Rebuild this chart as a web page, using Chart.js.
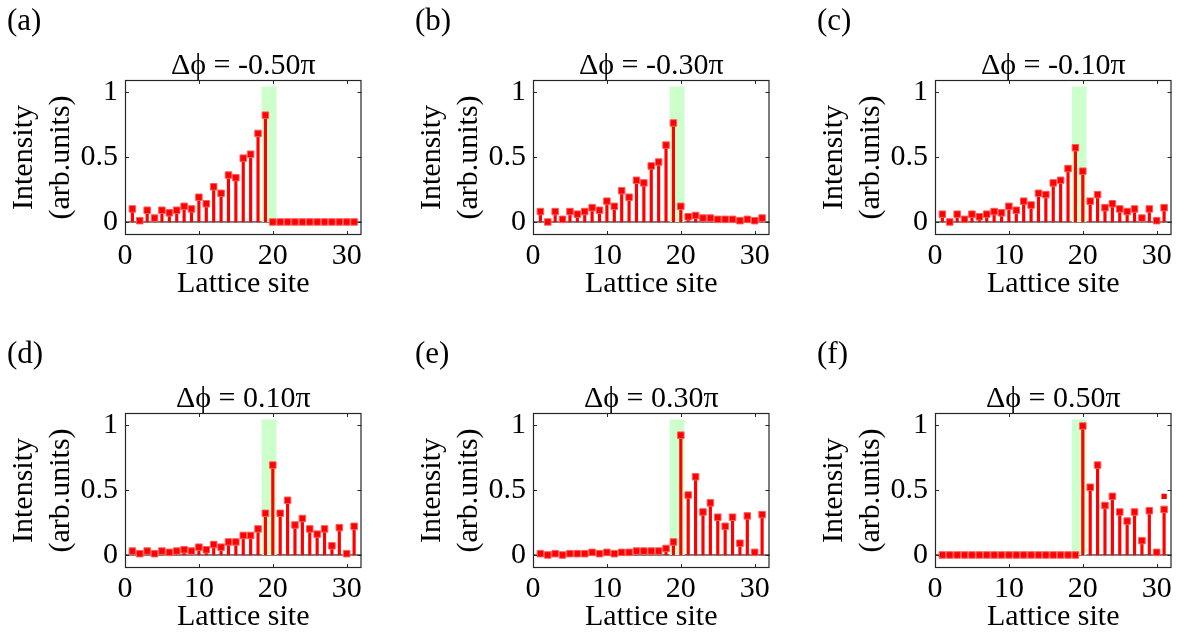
<!DOCTYPE html>
<html>
<head>
<meta charset="utf-8">
<title>Lattice site intensity</title>
<script src="https://cdn.jsdelivr.net/npm/chart.js@4/dist/chart.umd.min.js"></script>
<style>
    body { margin: 0; background: #fff; overflow: hidden; }
    #wrap { position: relative; width: 1189px; height: 632px; }
    #wrap canvas { position: absolute; }
</style>
</head>
<body>
<div id="wrap"></div>
<script>
// lattice sites 1..31
const sites = [1, 2, 3, 4, 5, 6, 7, 8, 9, 10, 11, 12, 13, 14, 15, 16,
    17, 18, 19, 20, 21, 22, 23, 24, 25, 26, 27, 28, 29, 30, 31];

const phases = ['-0.50', '-0.30', '-0.10', '0.10', '0.30', '0.50'];
const panelTags = ['(a)', '(b)', '(c)', '(d)', '(e)', '(f)'];

const intensityA = [0.10, 0.01, 0.09, 0.03, 0.09, 0.07, 0.09, 0.12, 0.10, 0.19, 0.14, 0.27, 0.22, 0.36, 0.34, 0.49,
    0.52, 0.68, 0.82, 0, 0, 0, 0, 0, 0, 0, 0, 0, 0, 0, 0];
const intensityB = [0.08, 0.00, 0.08, 0.02, 0.08, 0.06, 0.08, 0.11, 0.09, 0.16, 0.12, 0.24, 0.19, 0.32, 0.30, 0.43,
    0.46, 0.59, 0.76, 0.12, 0.04, 0.05, 0.03, 0.03, 0.02, 0.02, 0.02, 0.01, 0.02, 0.01, 0.03];
const intensityC = [0.06, 0.00, 0.06, 0.02, 0.06, 0.04, 0.06, 0.08, 0.07, 0.12, 0.09, 0.16, 0.13, 0.22, 0.21, 0.30,
    0.32, 0.41, 0.57, 0.39, 0.16, 0.21, 0.11, 0.14, 0.10, 0.08, 0.10, 0.03, 0.10, 0.01, 0.11];
const intensityD = [0.03, 0.01, 0.03, 0.01, 0.03, 0.02, 0.03, 0.04, 0.03, 0.06, 0.04, 0.08, 0.06, 0.10, 0.10, 0.15,
    0.15, 0.20, 0.32, 0.69, 0.32, 0.42, 0.23, 0.28, 0.20, 0.16, 0.20, 0.07, 0.21, 0.01, 0.22];
const intensityE = [0.01, 0.00, 0.01, 0.00, 0.01, 0.01, 0.01, 0.02, 0.01, 0.02, 0.01, 0.02, 0.02, 0.03, 0.03, 0.03,
    0.03, 0.05, 0.10, 0.92, 0.46, 0.60, 0.33, 0.40, 0.29, 0.22, 0.29, 0.09, 0.30, 0.02, 0.31];
const intensityF = [0, 0, 0, 0, 0, 0, 0, 0, 0, 0, 0, 0, 0, 0, 0, 0,
    0, 0, 0, 0.99, 0.52, 0.69, 0.38, 0.45, 0.33, 0.26, 0.33, 0.11, 0.34, 0.02, 0.35];
// stray marker above the last stem in (f)
const extraF = [[31, 0.45]];

const xTicks = [0, 10, 20, 30];
const xTickLabels = ['0', '10', '20', '30'];
const yTicks = [0, 0.5, 1];
const yTickLabels = ['0', '0.5', '1'];

// shaded sites around the interface
const highlightRange = [18.5, 20.5];
const highlightTop = 1.04;

const series = [intensityA, intensityB, intensityC, intensityD, intensityE, intensityF];
const extras = [[], [], [], [], [], extraF];

const FONT = "'Liberation Serif', 'Times New Roman', serif";
const COL_X = [0, 407.5, 810];
const ROW_Y = [0, 333];
const W = 380, H = 299;

const decor = {
    id: 'decor',
    beforeDatasetsDraw(chart) {
        const { ctx, chartArea: a, scales: { x, y } } = chart;
        const y0 = y.getPixelForValue(0);
        ctx.save();
        // stem baseline
        ctx.strokeStyle = '#000';
        ctx.lineWidth = 1;
        ctx.beginPath();
        ctx.moveTo(a.left, y0);
        ctx.lineTo(a.right, y0);
        ctx.stroke();
        // highlight band
        const bx0 = x.getPixelForValue(highlightRange[0]);
        const bx1 = x.getPixelForValue(highlightRange[1]);
        const by = y.getPixelForValue(highlightTop);
        ctx.fillStyle = '#ccffcc';
        ctx.fillRect(bx0, by, bx1 - bx0, y0 - by);
        ctx.restore();
    },
    afterDraw(chart, args, opts) {
        const { ctx, chartArea: a, scales: { x, y } } = chart;
        ctx.save();
        ctx.strokeStyle = '#262626';
        ctx.lineWidth = 1.2;
        ctx.strokeRect(a.left + 0.5, a.top + 0.5, a.right - a.left - 1, a.bottom - a.top - 1);
        ctx.lineWidth = 1;
        ctx.beginPath();
        xTicks.forEach(v => {
            const px = Math.round(x.getPixelForValue(v)) + 0.5;
            ctx.moveTo(px, a.bottom); ctx.lineTo(px, a.bottom - 4);
            ctx.moveTo(px, a.top); ctx.lineTo(px, a.top + 4);
        });
        yTicks.forEach(v => {
            const py = Math.round(y.getPixelForValue(v)) + 0.5;
            ctx.moveTo(a.left, py); ctx.lineTo(a.left + 4, py);
            ctx.moveTo(a.right, py); ctx.lineTo(a.right - 4, py);
        });
        ctx.stroke();

        ctx.fillStyle = '#000';
        ctx.font = '30px ' + FONT;
        ctx.textBaseline = 'middle';
        ctx.textAlign = 'center';
        ctx.fillText(opts.title, (a.left + a.right) / 2, 66);
        ctx.textAlign = 'left';
        ctx.font = '31px ' + FONT;
        ctx.fillText(opts.tag, 7, 22);
        ctx.restore();
    }
};

const wrap = document.getElementById('wrap');

series.forEach((vals, i) => {
    const canvas = document.createElement('canvas');
    canvas.width = W;
    canvas.height = H;
    canvas.style.left = COL_X[i % 3] + 'px';
    canvas.style.top = ROW_Y[Math.floor(i / 3)] + 'px';
    wrap.appendChild(canvas);

    const points = sites.map((s, k) => ({ x: s, y: vals[k] }));

    new Chart(canvas, {
        type: 'bar',
        data: {
            datasets: [{
                type: 'bar',
                data: points,
                backgroundColor: '#ff0000',
                barThickness: 2.5,
                grouped: false,
                order: 3
            }, {
                type: 'scatter',
                data: points,
                pointStyle: 'rect',
                pointRadius: 4.6,
                backgroundColor: '#ff0000',
                borderColor: '#ff5a5a',
                borderWidth: 1,
                order: 2
            }, {
                type: 'scatter',
                data: extras[i].map(p => ({ x: p[0], y: p[1] })),
                pointStyle: 'rect',
                pointRadius: 3.8,
                backgroundColor: '#ff0000',
                borderWidth: 0,
                order: 1
            }]
        },
        options: {
            responsive: false,
            animation: false,
            devicePixelRatio: 1,
            layout: { padding: { top: 80, right: W - 125 - 236.5, left: 0, bottom: 0 } },
            plugins: {
                legend: { display: false },
                tooltip: { enabled: false },
                decor: { title: 'Δϕ = ' + phases[i] + 'π', tag: panelTags[i] }
            },
            scales: {
                x: {
                    type: 'linear',
                    min: 0,
                    max: 32,
                    offset: false,
                    grid: { display: false, drawTicks: false },
                    border: { display: false },
                    afterBuildTicks: s => { s.ticks = xTicks.map(v => ({ value: v })); },
                    afterFit: s => { s.height = H - 235; },
                    ticks: {
                        autoSkip: false,
                        maxRotation: 0,
                        padding: 3,
                        color: '#000',
                        font: { family: FONT, size: 30 },
                        callback: v => xTickLabels[xTicks.indexOf(v)]
                    },
                    title: {
                        display: true,
                        text: 'Lattice site',
                        color: '#000',
                        padding: { top: 0, bottom: 0 },
                        font: { family: FONT, size: 30, lineHeight: 1 }
                    }
                },
                y: {
                    min: -0.1,
                    max: 1.09,
                    grid: { display: false, drawTicks: false },
                    border: { display: false },
                    afterBuildTicks: s => { s.ticks = yTicks.map(v => ({ value: v })); },
                    afterFit: s => { s.width = 125; },
                    ticks: {
                        padding: 7,
                        color: '#000',
                        font: { family: FONT, size: 30 },
                        callback: v => yTickLabels[yTicks.indexOf(v)]
                    },
                    title: {
                        display: true,
                        text: ['Intensity', '(arb.units)'],
                        color: '#000',
                        padding: { top: 5, bottom: 0 },
                        font: { family: FONT, size: 30, lineHeight: 1.25 }
                    }
                }
            }
        },
        plugins: [decor]
    });
});
</script>
</body>
</html>
